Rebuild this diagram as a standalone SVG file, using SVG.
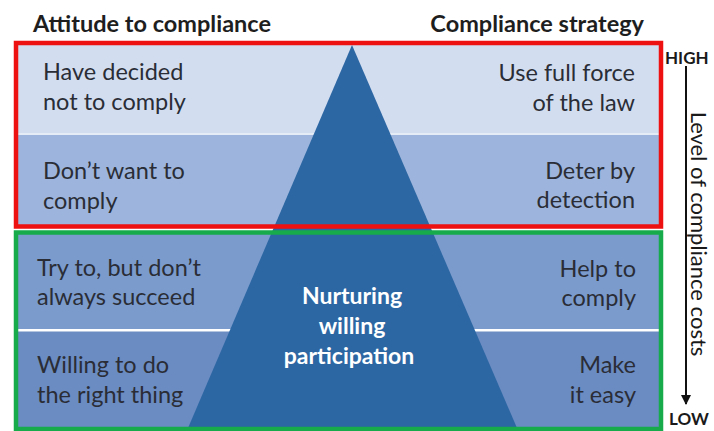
<svg xmlns="http://www.w3.org/2000/svg" width="714" height="431" viewBox="0 0 714 431">
<defs>
<style>
.hd{font-family:Lato,"Open Sans","Liberation Sans",sans-serif;font-weight:bold;font-size:23.5px;fill:#1e1e1e}
.t{font-family:Lato,"Open Sans","Liberation Sans",sans-serif;font-size:23.5px;fill:#2a2d36}
.r{text-anchor:end}
.c{font-family:Lato,"Open Sans","Liberation Sans",sans-serif;font-weight:bold;font-size:23px;fill:#ffffff;text-anchor:middle}
.ax{font-family:Lato,"Open Sans","Liberation Sans",sans-serif;font-weight:bold;font-size:17px;fill:#1a1a1a}
.lv{font-family:Lato,"Open Sans","Liberation Sans",sans-serif;font-size:22px;fill:#1a1a1a;text-anchor:middle}
</style>
<marker id="ah" viewBox="0 0 10 10" refX="9" refY="5" markerWidth="10" markerHeight="10" markerUnits="userSpaceOnUse" orient="auto">
<path d="M0,0 L10,5 L0,10 z" fill="#111"/>
</marker>
</defs>
<rect width="714" height="431" fill="#ffffff"/>
<g id="bands">
<rect x="18" y="45" width="641" height="88" fill="#d3ddf0"/>
<rect x="18" y="133" width="641" height="2" fill="#e6ecf6"/>
<rect x="18" y="135" width="641" height="90" fill="#9db5dc"/>
<rect x="18" y="234" width="641" height="95" fill="#7b9bcd"/>
<rect x="18" y="329" width="641" height="2.5" fill="#ffffff"/>
<rect x="18" y="331.5" width="641" height="96" fill="#6a8cc2"/>
</g>
<g id="pyramid">
<polygon points="352,45 517,428 188,428" fill="#2d67a3"/>
</g>
<g id="frames">
<rect x="16" y="43" width="645" height="183.5" fill="none" stroke="#ee1111" stroke-width="4.5"/>
<rect x="16" y="232.5" width="645" height="196.5" fill="none" stroke="#17ab4c" stroke-width="4.5"/>
</g>
<g id="headings">
<text class="hd" x="33" y="32">Attitude to compliance</text>
<text class="hd" x="644" y="32" text-anchor="end">Compliance strategy</text>
</g>
<g id="attitudes">
<text class="t" x="43" y="80">Have decided</text>
<text class="t" x="43" y="110">not to comply</text>
<text class="t" x="43" y="179">Don’t want to</text>
<text class="t" x="43" y="209">comply</text>
<text class="t" x="37" y="276">Try to, but don’t</text>
<text class="t" x="37" y="305">always succeed</text>
<text class="t" x="37" y="373">Willing to do</text>
<text class="t" x="37" y="403">the right thing</text>
</g>
<g id="strategies">
<text class="t r" x="635" y="81">Use full force</text>
<text class="t r" x="635" y="111">of the law</text>
<text class="t r" x="635" y="179">Deter by</text>
<text class="t r" x="635" y="208">detection</text>
<text class="t r" x="636" y="277">Help to</text>
<text class="t r" x="636" y="306">comply</text>
<text class="t r" x="636" y="373">Make</text>
<text class="t r" x="636" y="403">it easy</text>
</g>
<g id="center">
<text class="c" x="352" y="304">Nurturing</text>
<text class="c" x="352" y="334">willing</text>
<text class="c" x="349" y="364">participation</text>
</g>
<g id="connectors">
<line x1="686" y1="66" x2="686" y2="404" stroke="#111" stroke-width="2" marker-end="url(#ah)"/>
</g>
<g id="axis">
<text class="ax" x="665" y="64">HIGH</text>
<text class="ax" x="669" y="425">LOW</text>
<text class="lv" transform="translate(691,234) rotate(90)">Level of compliance costs</text>
</g>
</svg>
